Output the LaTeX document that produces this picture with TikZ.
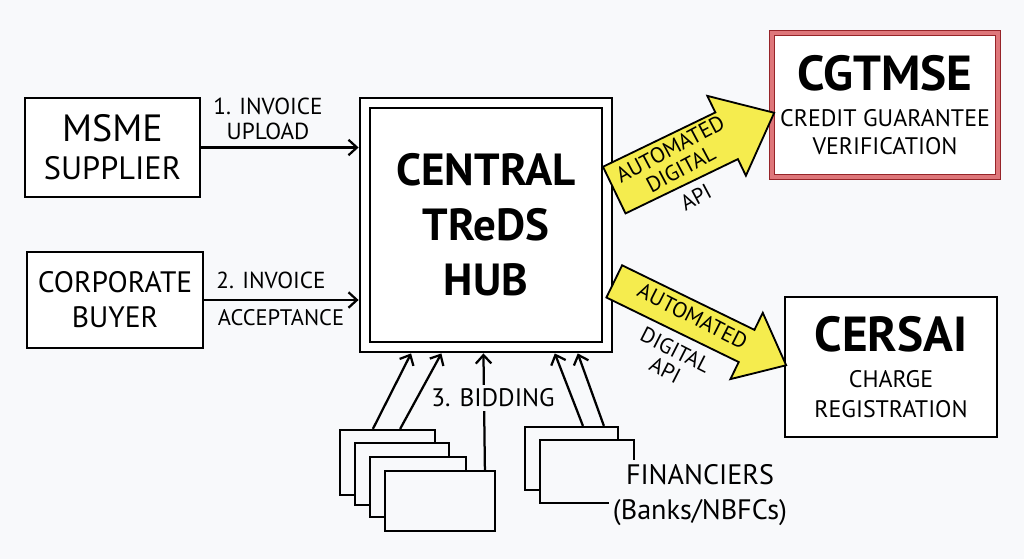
\documentclass[tikz,border=0pt]{standalone}
\usepackage{fontspec}
\setmainfont{PT Sans}
\usetikzlibrary{arrows.meta,shapes.arrows,calc}

\definecolor{paper}{RGB}{248,249,251}
\definecolor{apiyellow}{RGB}{245,236,78}
\definecolor{cgred}{RGB}{150,35,40}
\definecolor{cgpink}{RGB}{222,118,122}

\tikzset{
  box/.style={draw,line width=1.8pt,fill=white,align=center,inner sep=0pt},
  card/.style={draw,line width=1.6pt,fill=paper,inner sep=0pt},
  flow/.style={line width=1.6pt,-{Straight Barb[length=6pt,width=11pt,line width=1.6pt]}},
  apiarrow/.style={single arrow,draw,line width=1.3pt,fill=apiyellow,inner xsep=0pt,single arrow tip angle=80},
  lbl/.style={inner sep=1pt,align=center}
}

\begin{document}
\begin{tikzpicture}[x=0.025cm,y=-0.025cm]
\fill[paper] (0,0) rectangle (1024,559);
\useasboundingbox (0,0) rectangle (1024,559);

%suppliers and buyers
\node[box,minimum width=4.375cm,minimum height=2.475cm,font=\fontsize{23}{27}\selectfont] (msme) at (112.5,147.5) {{\fontsize{27}{27}\selectfont MSME}\\SUPPLIER};
\node[box,minimum width=4.4cm,minimum height=2.4cm,font=\fontsize{21}{25}\selectfont] (buyer) at (115,300) {CORPORATE\\BUYER};

%hub
\node[box,line width=1.6pt,double,double distance=5.5pt,outer sep=4.4pt,minimum width=6.06cm,minimum height=6.11cm,
      font=\fontsize{32}{39}\selectfont\bfseries] (hub) at (486,225) {CENTRAL\\TReDS\\HUB};

\draw[flow] (msme.east) -- (msme.east -| hub.west);
\draw[flow] (buyer.east) -- (buyer.east -| hub.west);

\node[lbl,font=\fontsize{16.5}{18}\selectfont] (upload) at (268,119) {1. INVOICE\\UPLOAD};
\node[lbl,font=\fontsize{16.5}{18}\selectfont] (accept1) at (271,280) {2. INVOICE};
\node[lbl,font=\fontsize{16}{18}\selectfont] (accept2) at (281,318) {ACCEPTANCE};

%agencies
\node[box,draw=cgred,double=cgpink,line width=0.9pt,double distance=2.4pt,minimum width=5.65cm,minimum height=3.6cm,
      font=\fontsize{17}{20}\selectfont] (cgtmse) at (885,105) {{\fontsize{35}{38}\selectfont\bfseries CGTMSE}\\[6pt]CREDIT GUARANTEE\\VERIFICATION};
\node[box,minimum width=5.3cm,minimum height=3.5cm,
      font=\fontsize{17}{21}\selectfont] (cersai) at (891,367) {{\fontsize{35}{36}\selectfont\bfseries CERSAI}\\[5pt]CHARGE\\REGISTRATION};

%api arrows
\node[apiarrow,rotate=25.8,anchor=tail,minimum height=4.44cm,inner ysep=0.625cm,single arrow head extend=0.46cm] (api1) at ($(hub.east)+(0,-34.5)$) {};
\node[apiarrow,rotate=-26,anchor=tail,minimum height=4.78cm,inner ysep=0.425cm,single arrow head extend=0.475cm] (api2) at ($(hub.east)+(0,56)$) {};

\node[lbl,rotate=28,font=\fontsize{15.5}{16}\selectfont] (apitext1) at (683,173) {AUTOMATED\\DIGITAL\\[7pt]API};
\node[lbl,rotate=-27,font=\fontsize{15.5}{16}\selectfont] (apitext2) at (679,343) {AUTOMATED\\[11pt]DIGITAL\\API};

%financiers
\node[card,minimum width=2.375cm,minimum height=1.625cm] (bl1) at (387.5,462.5) {};
\node[card,minimum width=2.35cm,minimum height=1.55cm] (bl2) at (402,474) {};
\node[card,minimum width=2.4cm,minimum height=1.5cm] (bl3) at (418,487) {};
\node[card,minimum width=2.75cm,minimum height=1.5cm] (bl4) at (440,501) {};
\node[card,minimum width=2.325cm,minimum height=1.575cm] (fr1) at (571.5,458.5) {};
\node[card,minimum width=2.35cm,minimum height=1.575cm] (fr2) at (587,471.5) {};

\draw[flow] ($(bl1.north west)!0.35!(bl1.north east)$) -- ($(hub.south west)!0.206!(hub.south east)$);
\draw[flow] ($(bl1.north west)!0.63!(bl1.north east)$) -- ($(hub.south west)!0.325!(hub.south east)$);
\draw[flow] ($(bl4.north west)!0.9!(bl4.north east)$) -- ($(hub.south west)!0.49!(hub.south east)$);
\draw[flow] ($(fr1.north west)!0.62!(fr1.north east)$) -- ($(hub.south west)!0.77!(hub.south east)$);
\draw[flow] ($(fr1.north west)!0.84!(fr1.north east)$) -- ($(hub.south west)!0.86!(hub.south east)$);

\node[lbl,fill=paper,inner sep=3pt,font=\fontsize{18}{20}\selectfont] (bidding) at (493,398) {3. BIDDING};
\node[lbl,fill=paper,inner sep=3pt,font=\fontsize{20}{25}\selectfont] (banks) at (700,495) {FINANCIERS\\(Banks/NBFCs)};

\end{tikzpicture}
\end{document}
